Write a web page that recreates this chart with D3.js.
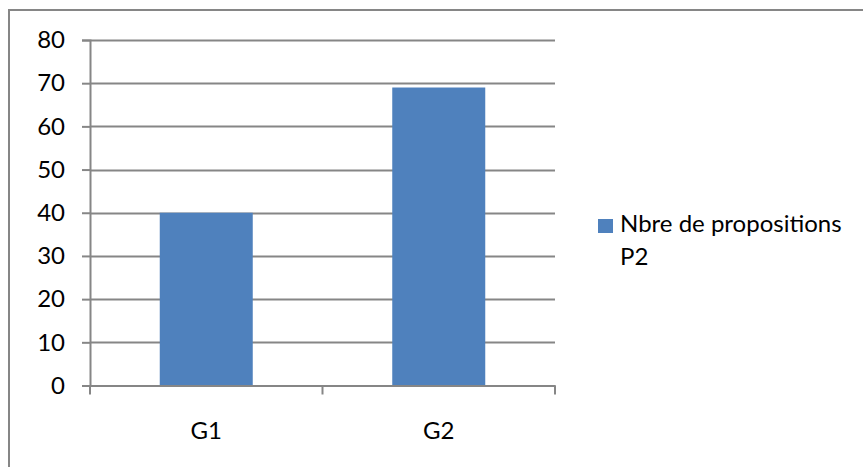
<!DOCTYPE html>
<html>
<head>
<meta charset="utf-8">
<script src="https://cdn.jsdelivr.net/npm/d3@7"></script>
<style>
  html, body { margin: 0; padding: 0; background: #fff; }
  svg { display: block; }
  text { font-family: Lato, "Open Sans", sans-serif; fill: #000; }
</style>
</head>
<body>
<svg id="chart" width="863" height="467"></svg>
<script>
// Data
const categories = ["G1", "G2"];
const values = [40, 69];
const yTicks = [0, 10, 20, 30, 40, 50, 60, 70, 80];
const seriesName = ["Nbre de propositions", "P2"];

const svg = d3.select("#chart");
const W = 863, H = 467;
const plot = { left: 90, right: 555, top: 40, bottom: 385.5 };
const gridColor = "#868686";
const barColor = "#4f81bd";
const fontSize = "24px";

// Outer chart frame (extends past the right and bottom edges)
svg.append("rect")
  .attr("x", 9).attr("y", 10)
  .attr("width", W + 20).attr("height", H + 20)
  .attr("fill", "#fff")
  .attr("stroke", "#868686").attr("stroke-width", 2);

const x = d3.scaleBand().domain(categories).range([plot.left, plot.right]).paddingInner(0).paddingOuter(0);
const y = d3.scaleLinear().domain([0, 80]).range([plot.bottom, plot.top]);

// Horizontal gridlines
svg.append("g").selectAll("line").data(yTicks.filter(d => d > 0)).join("line")
  .attr("x1", plot.left).attr("x2", plot.right)
  .attr("y1", d => Math.round(y(d)) + 0.5).attr("y2", d => Math.round(y(d)) + 0.5)
  .attr("stroke", gridColor).attr("stroke-width", 2);

// Bars
const bw = x.bandwidth() * 0.4;
svg.append("g").selectAll("rect").data(values).join("rect")
  .attr("x", (d, i) => x(categories[i]) + (x.bandwidth() - bw) / 2)
  .attr("width", bw)
  .attr("y", d => y(d))
  .attr("height", d => y(0) - y(d))
  .attr("fill", barColor);

// Y axis
const yAxis = svg.append("g")
  .attr("transform", `translate(${plot.left},0)`)
  .call(d3.axisLeft(y).tickValues(yTicks).tickSize(8).tickPadding(17));
yAxis.select(".domain").attr("stroke", gridColor).attr("stroke-width", 2);
yAxis.selectAll(".tick line").attr("stroke", gridColor).attr("stroke-width", 2);
yAxis.selectAll(".tick text").style("font-size", fontSize).attr("fill", "#000");

// X axis
const xAxis = svg.append("g")
  .attr("transform", `translate(0,${plot.bottom})`)
  .call(d3.axisBottom(x).tickSize(0).tickPadding(0));
xAxis.select(".domain").attr("stroke", gridColor).attr("stroke-width", 2);
xAxis.selectAll(".tick text").style("font-size", fontSize).attr("fill", "#000")
  .attr("dy", null).attr("y", 53);
// Category separators
const seps = [plot.left, ...categories.map(c => x(c) + x.bandwidth())];
xAxis.append("g").selectAll("line").data(seps).join("line")
  .attr("x1", d => d).attr("x2", d => d)
  .attr("y1", 0).attr("y2", 9)
  .attr("stroke", gridColor).attr("stroke-width", 2);

// Legend
const lg = svg.append("g").attr("transform", "translate(598,219)");
lg.append("rect").attr("width", 15).attr("height", 14).attr("fill", barColor);
lg.append("text").style("font-size", fontSize)
  .selectAll("tspan").data(seriesName).join("tspan")
  .attr("x", 22).attr("y", (d, i) => 13 + i * 33).text(d => d);
</script>
</body>
</html>
